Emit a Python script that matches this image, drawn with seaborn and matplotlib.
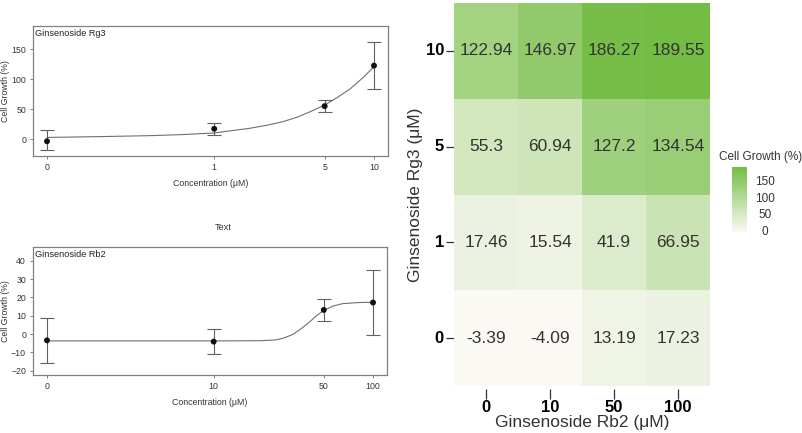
import numpy as np
import pandas as pd
import matplotlib
matplotlib.use("Agg")
import matplotlib.pyplot as plt
import seaborn as sns
from matplotlib.colors import LinearSegmentedColormap

# Rg3 dose response (top left panel)
rg3_conc = [0, 1, 5, 10]
rg3_mean = [-3.39, 17.46, 55.3, 122.94]
rg3_low = [-18.3, 7.2, 45.6, 83.3]
rg3_high = [15.0, 27.8, 65.0, 161.7]
# fitted curve
rg3_fit_conc = [0, 0.12, 0.35, 0.61, 1, 1.71, 2.2, 2.76, 3.4, 4.07, 5, 6, 7.15, 8.5, 10]
rg3_fit_growth = [3, 4.4, 6, 7.8, 10.5, 18.3, 23.5, 29.3, 37, 46, 57, 70, 84, 102, 121]

# Rb2 dose response (bottom left panel)
rb2_conc = [0, 10, 50, 100]
rb2_mean = [-3.39, -4.09, 13.19, 17.23]
rb2_low = [-15.5, -11.1, 7.1, -0.5]
rb2_high = [8.9, 2.7, 19.3, 35.1]
rb2_fit_conc = [0, 10, 20, 25, 28, 32, 36, 40.7, 45, 50, 57, 65, 80, 100]
rb2_fit_growth = [-3.7, -3.7, -3.6, -3.2, -2.2, -0.3, 2.8, 6.5, 10, 13.0, 15.3, 16.6, 17.2, 17.4]

# Combination heatmap (columns = Rb2, rows = Rg3)
rb2_levels = [0, 10, 50, 100]
rg3_levels = [10, 5, 1, 0]
rg3_10 = [122.94, 146.97, 186.27, 189.55]
rg3_5 = [55.3, 60.94, 127.2, 134.54]
rg3_1 = [17.46, 15.54, 41.9, 66.95]
rg3_0 = [-3.39, -4.09, 13.19, 17.23]

sns.set_style("white")
plt.rcParams['font.family'] = ['Liberation Sans', 'DejaVu Sans']

fig = plt.figure(figsize=(8.03, 4.33), dpi=100)

frame_col = '#808080'
txt_col = '#333333'


def dose_panel(rect, conc, mean, low, high, fit_x, fit_y, offset, ticks, ylim, yticks, name):
    ax = fig.add_axes(rect)
    sns.lineplot(x=fit_x, y=fit_y, ax=ax, color='#707070', linewidth=0.8)
    err = [np.array(mean) - np.array(low), np.array(high) - np.array(mean)]
    ax.errorbar(conc, mean, yerr=err, fmt='none', ecolor='#606060',
                elinewidth=0.8, capsize=5, capthick=0.8)
    sns.scatterplot(x=conc, y=mean, ax=ax, color='#111111', s=18, edgecolor='none', zorder=5)
    ax.set_xscale('function', functions=(lambda x: np.log10(x + offset),
                                         lambda y: 10 ** y - offset))
    lo = np.log10(offset) - 0.084
    hi = np.log10(ticks[-1] + offset) + 0.084
    ax.set_xlim(10 ** lo - offset, 10 ** hi - offset)
    ax.set_xticks(ticks)
    ax.set_xticklabels([str(t) for t in ticks])
    ax.set_ylim(*ylim)
    ax.set_yticks(yticks)
    ax.tick_params(length=2.5, width=0.7, color=frame_col, labelsize=6.3,
                   labelcolor=txt_col, pad=2.5, bottom=True, left=True)
    for sp in ax.spines.values():
        sp.set_color(frame_col)
        sp.set_linewidth(0.9)
    ax.set_xlabel('Concentration (μM)', fontsize=6.3, color=txt_col, labelpad=5)
    ax.set_ylabel('Cell Growth (%)', fontsize=6.3, color=txt_col, labelpad=1)
    ax.text(0.006, 0.975, name, transform=ax.transAxes, va='top', ha='left',
            fontsize=6.6, color='#222222')
    return ax


dose_panel([0.0411, 0.6397, 0.4421, 0.3002], rg3_conc, rg3_mean, rg3_low, rg3_high,
           rg3_fit_conc, rg3_fit_growth, 0.11, [0, 1, 5, 10], (-28, 189),
           [0, 50, 100, 150], 'Ginsenoside Rg3')
dose_panel([0.0411, 0.1339, 0.4408, 0.2956], rb2_conc, rb2_mean, rb2_low, rb2_high,
           rb2_fit_conc, rb2_fit_growth, 1.1, [0, 10, 50, 100], (-22.3, 47.5),
           [-20, -10, 0, 10, 20, 30, 40], 'Ginsenoside Rb2')

fig.text(223 / 803, 1 - 228 / 433, 'Text', ha='center', va='center',
         fontsize=6.6, color=txt_col)

# heatmap
grid = pd.DataFrame([rg3_10, rg3_5, rg3_1, rg3_0], index=rg3_levels, columns=rb2_levels)
cmap = LinearSegmentedColormap.from_list('growth', ['#fbf9f4', '#74bd44'])

hax = fig.add_axes([0.5654, 0.1085, 0.3188, 0.8845])
cax = fig.add_axes([0.9116, 0.4642, 0.0187, 0.150])
sns.heatmap(grid, ax=hax, cbar_ax=cax, cmap=cmap, vmin=-4.09, vmax=189.55,
            annot=True, fmt='g', annot_kws={'fontsize': 12.5, 'color': txt_col})

hax.spines['bottom'].set_position(('outward', 2.2))
hax.tick_params(axis='x', bottom=True, length=7.2, width=0.9, color=txt_col, pad=1)
hax.tick_params(axis='y', left=True, length=5.8, width=0.9, color=txt_col, pad=1.5)
hax.set_xticklabels([str(v) for v in rb2_levels], rotation=0, fontsize=12,
                    fontweight='bold', color='black')
hax.set_yticklabels([str(v) for v in rg3_levels], rotation=0, fontsize=12,
                    fontweight='bold', color='black')
hax.set_xlabel('Ginsenoside Rb2 (μM)', fontsize=12.5, color=txt_col, labelpad=0)
hax.set_ylabel('Ginsenoside Rg3 (μM)', fontsize=12.5, color=txt_col, labelpad=2)

cbar = hax.collections[0].colorbar
cbar.set_ticks([0, 50, 100, 150])
cbar.outline.set_visible(False)
cax.tick_params(length=0, pad=13, labelsize=8.5, labelcolor=txt_col)
for lab in cax.get_yticklabels():
    lab.set_ha('center')
fig.text(719 / 803, 1 - 157 / 433, 'Cell Growth (%)', ha='left', va='center',
         fontsize=8.5, color=txt_col)

fig.savefig('out.png', dpi=100)
